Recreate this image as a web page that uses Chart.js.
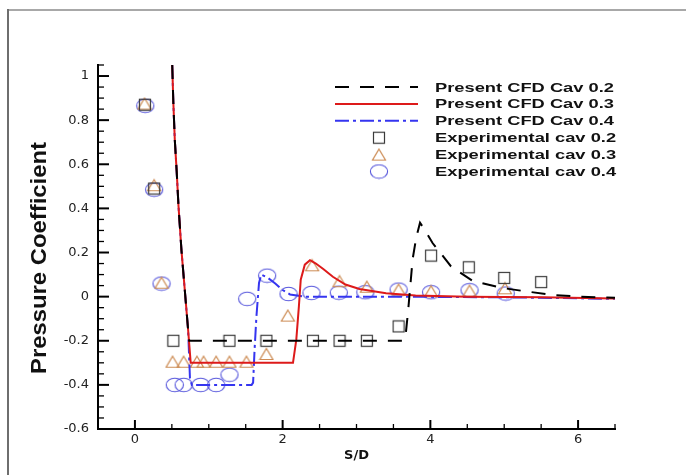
<!DOCTYPE html>
<html>
<head>
<meta charset="utf-8">
<script src="https://cdn.jsdelivr.net/npm/chart.js"></script>
<style>
html, body { margin: 0; padding: 0; background: #fff; overflow: hidden; }
#wrap { position: relative; width: 686px; height: 475px; overflow: hidden; }
#frameTop { position: absolute; left: 7px; top: 9px; width: 679px; height: 0; border-top: 2px solid #a8a8a8; }
#frameLeft { position: absolute; left: 7px; top: 9px; width: 0; height: 466px; border-left: 2px solid #6e6e6e; }
#c { position: absolute; left: 0; top: 0; }
</style>
</head>
<body>
<div id="wrap"><div id="frameTop"></div><div id="frameLeft"></div><canvas id="c" width="686" height="475"></canvas></div>
<script>
// CFD curves
var cfd02X = [0.505, 0.52, 0.54, 0.565, 0.59, 0.63, 0.675, 0.72, 0.735, 3.64, 3.67, 3.70, 3.76, 3.81, 3.86, 3.93, 4.03, 4.28, 4.57, 4.96, 5.29, 5.65, 6.0, 6.5];
var cfd02Y = [1.05, 0.88, 0.71, 0.57, 0.41, 0.21, 0.03, -0.15, -0.2, -0.2, -0.16, -0.06, 0.17, 0.27, 0.335, 0.30, 0.243, 0.137, 0.072, 0.04, 0.024, 0.008, 0.0, -0.005];

var cfd03X = [0.505, 0.52, 0.54, 0.565, 0.59, 0.63, 0.675, 0.72, 0.755, 2.14, 2.185, 2.22, 2.245, 2.30, 2.37, 2.45, 2.55, 2.68, 2.85, 3.04, 3.4, 3.8, 4.5, 5.5, 6.5];
var cfd03Y = [1.05, 0.88, 0.71, 0.57, 0.41, 0.21, 0.03, -0.15, -0.3, -0.3, -0.195, -0.044, 0.077, 0.145, 0.165, 0.15, 0.125, 0.09, 0.055, 0.035, 0.015, 0.005, 0.0, -0.003, -0.008];

var cfd04X = [0.505, 0.52, 0.54, 0.565, 0.59, 0.63, 0.675, 0.72, 0.745, 0.77, 1.58, 1.60, 1.62, 1.645, 1.68, 1.71, 1.8, 1.9, 2.0, 2.1, 2.3, 3.5, 5.0, 6.5];
var cfd04Y = [1.05, 0.88, 0.71, 0.57, 0.41, 0.21, 0.03, -0.15, -0.37, -0.4, -0.4, -0.39, -0.24, -0.09, 0.062, 0.10, 0.085, 0.06, 0.03, 0.01, 0.0, 0.0, -0.003, -0.01];

// experimental points
var exp02X = [0.135, 0.26, 0.52, 1.28, 1.78, 2.41, 2.77, 3.14, 3.57, 4.01, 4.52, 5.0, 5.5];
var exp02Y = [0.87, 0.49, -0.2, -0.2, -0.2, -0.2, -0.2, -0.2, -0.135, 0.186, 0.133, 0.085, 0.066];

var exp03X = [0.13, 0.26, 0.36, 0.51, 0.66, 0.84, 0.93, 1.10, 1.28, 1.51, 1.78, 2.07, 2.40, 2.77, 3.14, 3.57, 4.01, 4.53, 5.01];
var exp03Y = [0.875, 0.505, 0.063, -0.295, -0.295, -0.295, -0.295, -0.295, -0.295, -0.295, -0.26, -0.086, 0.142, 0.07, 0.045, 0.032, 0.024, 0.027, 0.038];

var exp04X = [0.14, 0.26, 0.36, 0.54, 0.66, 0.89, 1.10, 1.28, 1.52, 1.79, 2.08, 2.39, 2.76, 3.12, 3.57, 4.01, 4.53, 5.02];
var exp04Y = [0.865, 0.485, 0.059, -0.40, -0.40, -0.40, -0.40, -0.354, -0.01, 0.095, 0.012, 0.017, 0.018, 0.02, 0.032, 0.02, 0.029, 0.014];

// axes
var xTicks = [0, 2, 4, 6];
var xTickLabels = ['0', '2', '4', '6'];
var xMinor = [0.5, 1, 1.5, 2.5, 3, 3.5, 4.5, 5, 5.5, 6.5];
var yTicks = [-0.6, -0.4, -0.2, 0, 0.2, 0.4, 0.6, 0.8, 1];
var yTickLabels = ['-0.6', '-0.4', '-0.2', '0', '0.2', '0.4', '0.6', '0.8', '1'];
var yMinor = [];
for (var k = -11; k <= 21; k++) { if (k % 4 != 0) yMinor.push(k * 0.05); }

var seriesNames = ['Present CFD Cav 0.2', 'Present CFD Cav 0.3', 'Present CFD Cav 0.4',
                   'Experimental cav 0.2', 'Experimental cav 0.3', 'Experimental cav 0.4'];

function pts(xs, ys) {
    var out = [];
    for (var i = 0; i < xs.length; i++) out.push({x: xs[i], y: ys[i]});
    return out;
}

// hollow marker images
function markSquare() {
    var c = document.createElement('canvas'); c.width = 14; c.height = 14;
    var g = c.getContext('2d');
    g.strokeStyle = '#3a3a3a'; g.lineWidth = 1.2;
    g.strokeRect(1.5, 1.5, 11, 11);
    return c;
}
function markTriangle() {
    var c = document.createElement('canvas'); c.width = 16; c.height = 14;
    var g = c.getContext('2d');
    g.strokeStyle = 'rgb(205,140,85)'; g.lineWidth = 1.2;
    g.beginPath(); g.moveTo(8, 1.5); g.lineTo(14.5, 12.5); g.lineTo(1.5, 12.5); g.closePath();
    g.stroke();
    return c;
}
function markEllipse() {
    var c = document.createElement('canvas'); c.width = 20; c.height = 16;
    var g = c.getContext('2d');
    g.strokeStyle = 'rgb(85,85,220)'; g.lineWidth = 1.1;
    g.beginPath(); g.ellipse(10, 8, 8.6, 6.8, 0, 0, Math.PI * 2); g.stroke();
    return c;
}
var sq = markSquare(), tri = markTriangle(), ell = markEllipse();

// ticks pointing inwards, legend and y title
var extras = {
    id: 'extras',
    afterDraw: function(chart) {
        var ctx = chart.ctx, xs = chart.scales.x, ys = chart.scales.y, a = chart.chartArea;
        ctx.save();
        ctx.strokeStyle = '#000';
        ctx.lineWidth = 2;
        yTicks.forEach(function(v) {
            var p = ys.getPixelForValue(v);
            ctx.beginPath(); ctx.moveTo(a.left, p); ctx.lineTo(a.left + 11, p); ctx.stroke();
        });
        xTicks.forEach(function(v) {
            var p = xs.getPixelForValue(v);
            ctx.beginPath(); ctx.moveTo(p, a.bottom); ctx.lineTo(p, a.bottom - 9); ctx.stroke();
        });
        ctx.lineWidth = 1.3;
        yMinor.forEach(function(v) {
            var p = ys.getPixelForValue(v);
            ctx.beginPath(); ctx.moveTo(a.left, p); ctx.lineTo(a.left + 6, p); ctx.stroke();
        });
        xMinor.forEach(function(v) {
            var p = xs.getPixelForValue(v);
            ctx.beginPath(); ctx.moveTo(p, a.bottom); ctx.lineTo(p, a.bottom - 5); ctx.stroke();
        });

        // legend
        ctx.font = 'bold 13px "Liberation Sans", Arial';
        var stretch = 179 / ctx.measureText(seriesNames[0]).width;
        chart.data.datasets.forEach(function(ds, i) {
            var y = 87 + i * 16.9;
            if (ds.showLine) {
                ctx.save();
                ctx.strokeStyle = ds.borderColor;
                ctx.lineWidth = ds.borderWidth;
                ctx.setLineDash(ds.borderDash || []);
                ctx.beginPath(); ctx.moveTo(335, y); ctx.lineTo(418, y); ctx.stroke();
                ctx.restore();
            } else {
                var im = ds.pointStyle;
                ctx.drawImage(im, 379 - im.width / 2, y - im.height / 2);
            }
            ctx.save();
            ctx.translate(435, y);
            ctx.scale(stretch, 1);
            ctx.fillStyle = '#111';
            ctx.textAlign = 'left';
            ctx.textBaseline = 'middle';
            ctx.fillText(ds.label, 0, 1);
            ctx.restore();
        });

        // y title, slightly condensed like the original
        ctx.save();
        ctx.translate(40, 258);
        ctx.rotate(-Math.PI / 2);
        ctx.font = 'bold 22px "Liberation Sans", Arial';
        var t = 'Pressure Coefficient';
        ctx.scale(232 / ctx.measureText(t).width, 1);
        ctx.fillStyle = '#111';
        ctx.textAlign = 'center';
        ctx.textBaseline = 'middle';
        ctx.fillText(t, 0, 0);
        ctx.restore();
        ctx.restore();
    }
};

function lineSet(label, xs, ys, color, dash) {
    return {
        label: label, data: pts(xs, ys), showLine: true, borderColor: color,
        borderWidth: 2, borderDash: dash, pointRadius: 0, tension: 0, fill: false
    };
}
function markSet(label, xs, ys, img) {
    return {
        label: label, data: pts(xs, ys), showLine: false, pointStyle: img,
        pointRadius: 7, pointHoverRadius: 7
    };
}

new Chart(document.getElementById('c').getContext('2d'), {
    type: 'scatter',
    data: {
        datasets: [
            lineSet(seriesNames[0], cfd02X, cfd02Y, '#000000', [14, 11]),
            lineSet(seriesNames[1], cfd03X, cfd03Y, '#dd1a1a', []),
            lineSet(seriesNames[2], cfd04X, cfd04Y, '#3535f0', [14, 4, 3, 4]),
            markSet(seriesNames[3], exp02X, exp02Y, sq),
            markSet(seriesNames[4], exp03X, exp03Y, tri),
            markSet(seriesNames[5], exp04X, exp04Y, ell)
        ]
    },
    options: {
        responsive: false,
        animation: false,
        devicePixelRatio: 1,
        layout: { padding: { left: 0, top: 65, right: 71, bottom: 0 } },
        plugins: { legend: { display: false }, tooltip: { enabled: false } },
        scales: {
            x: {
                type: 'linear', min: -0.5, max: 6.5,
                afterBuildTicks: function(axis) { axis.ticks = xTicks.map(function(v) { return {value: v}; }); },
                afterFit: function(axis) { axis.height = 46; },
                grid: { display: false, drawTicks: false },
                border: { display: true, color: '#000', width: 2 },
                ticks: {
                    autoSkip: false, maxRotation: 0, padding: 3, color: '#222',
                    font: { family: '"DejaVu Sans"', size: 13 },
                    callback: function(v, i) { return xTickLabels[i]; }
                },
                title: {
                    display: true, text: 'S/D', color: '#111',
                    font: { family: '"DejaVu Sans"', size: 13, weight: 'bold' },
                    padding: { top: 0, bottom: 12 }
                }
            },
            y: {
                type: 'linear', min: -0.6, max: 1.05,
                afterBuildTicks: function(axis) { axis.ticks = yTicks.map(function(v) { return {value: v}; }); },
                afterFit: function(axis) { axis.width = 98; },
                grid: { display: false, drawTicks: false },
                border: { display: true, color: '#000', width: 2 },
                ticks: {
                    padding: 9, color: '#222',
                    font: { family: '"DejaVu Sans"', size: 13 },
                    callback: function(v, i) { return yTickLabels[i]; }
                },
                title: { display: false }
            }
        }
    },
    plugins: [extras]
});
</script>
</body>
</html>
